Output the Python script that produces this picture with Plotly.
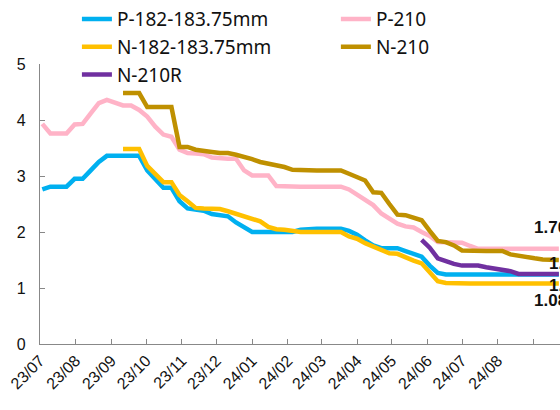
import pandas as pd
import plotly.graph_objects as go

# ---------------- data ----------------
start_week = "2023-07-03"
n_weeks = 65
dates = pd.date_range(start_week, periods=n_weeks, freq="7D")

series_names = ["P-182-183.75mm", "P-210", "N-182-183.75mm", "N-210", "N-210R"]
series_colors = ["#00B0F0", "#FFB3C7", "#FFC000", "#BF9000", "#7030A0"]
series_legend = ["legend", "legend2", "legend", "legend2", "legend"]

p182 = [2.76, 2.81, 2.81, 2.81, 2.95, 2.95, 3.10, 3.25, 3.36, 3.36,
        3.36, 3.36, 3.36, 3.10, 2.95, 2.79, 2.79, 2.55, 2.42, 2.39,
        2.38, 2.32, 2.30, 2.28, 2.17, 2.08, 2.00, 2.00, 2.00, 2.00,
        2.00, 2.00, 2.04, 2.06, 2.06, 2.06, 2.06, 2.06, 2.02, 1.95,
        1.85, 1.76, 1.71, 1.71, 1.71, 1.66, 1.61, 1.56, 1.40, 1.27,
        1.24, 1.24, 1.24, 1.24, 1.24, 1.24, 1.24, 1.24, 1.24, 1.24,
        1.24, 1.24, 1.24, 1.24, 1.24]

p210 = [3.93, 3.76, 3.76, 3.76, 3.92, 3.93, 4.12, 4.30, 4.36, 4.30,
        4.26, 4.26, 4.18, 4.06, 3.88, 3.74, 3.70, 3.47, 3.41, 3.40,
        3.39, 3.33, 3.31, 3.31, 3.31, 3.10, 3.01, 3.01, 3.01, 2.82,
        2.81, 2.81, 2.81, 2.81, 2.81, 2.81, 2.81, 2.81, 2.76, 2.67,
        2.58, 2.48, 2.33, 2.24, 2.15, 2.10, 2.08, 2.00, 1.93, 1.82,
        1.81, 1.81, 1.81, 1.75, 1.70, 1.70, 1.70, 1.70, 1.70, 1.70,
        1.70, 1.70, 1.70, 1.70, 1.70]

n182 = [None] * 10 + [
        3.48, 3.48, 3.48, 3.18, 3.03, 2.89, 2.89, 2.66, 2.55, 2.43,
        2.42, 2.42, 2.41, 2.37, 2.33, 2.28, 2.24, 2.19, 2.09, 2.05,
        2.04, 2.01, 2.00, 2.00, 2.00, 2.00, 2.00, 2.00, 1.92, 1.88,
        1.80, 1.74, 1.68, 1.62, 1.61, 1.54, 1.49, 1.44, 1.28, 1.12,
        1.09, 1.08, 1.08, 1.08, 1.08, 1.08, 1.08, 1.08, 1.08, 1.08,
        1.08, 1.08, 1.08, 1.08, 1.08]

n210 = [None] * 10 + [
        4.48, 4.48, 4.48, 4.23, 4.23, 4.23, 4.23, 3.52, 3.52, 3.47,
        3.46, 3.43, 3.41, 3.41, 3.38, 3.35, 3.30, 3.25, 3.22, 3.21,
        3.16, 3.11, 3.10, 3.10, 3.10, 3.10, 3.10, 3.10, 3.04, 2.97,
        2.92, 2.71, 2.70, 2.50, 2.31, 2.30, 2.26, 2.21, 2.02, 1.84,
        1.82, 1.76, 1.67, 1.66, 1.66, 1.66, 1.66, 1.66, 1.60, 1.57,
        1.55, 1.53, 1.51, 1.51, 1.50]

n210r = [None] * 47 + [
        1.86, 1.72, 1.53, 1.47, 1.43, 1.40, 1.40, 1.40, 1.37, 1.35,
        1.33, 1.30, 1.25, 1.25, 1.25, 1.25, 1.25, 1.25]

month_ticks = ["2023-07-01", "2023-08-01", "2023-09-01", "2023-10-01",
               "2023-11-01", "2023-12-01", "2024-01-01", "2024-02-01",
               "2024-03-01", "2024-04-01", "2024-05-01", "2024-06-01",
               "2024-07-01", "2024-08-01"]
month_labels = ["23/07", "23/08", "23/09", "23/10", "23/11", "23/12",
                "24/01", "24/02", "24/03", "24/04", "24/05", "24/06",
                "24/07", "24/08"]

# series that carry an end-value label, with pixel offsets of the label
end_labels = [("P-210", -27, 21), ("N-210", -12, -3),
              ("P-182-183.75mm", -12, -11), ("N-182-183.75mm", -27, -17)]

# ---------------- figure ----------------
all_values = [p182, p210, n182, n210, n210r]
fig = go.Figure()
for name, color, vals, lg in zip(series_names, series_colors, all_values, series_legend):
    fig.add_trace(go.Scatter(x=dates, y=vals, name=name, mode="lines",
                             line=dict(color=color, width=4.5),
                             connectgaps=False, legend=lg))

value_of = dict(zip(series_names, all_values))
for name, dx, dy in end_labels:
    v = value_of[name][-1]
    fig.add_annotation(x=dates[-1], y=v, text=f"{v:.2f}", showarrow=False,
                       xanchor="left", yanchor="middle", xshift=dx, yshift=dy,
                       font=dict(family="Arial, Liberation Sans", size=17,
                                 color="#111111", weight="bold"))

axis_col = "#888888"
legend_font = dict(family="Noto Sans", size=19, color="#111111")
fig.update_layout(
    width=560, height=410,
    margin=dict(l=40, r=0, t=64, b=66, autoexpand=False),
    paper_bgcolor="white", plot_bgcolor="white",
    showlegend=True,
    legend=dict(orientation="v", x=0.071, y=1.228, xanchor="left", yanchor="top",
                bgcolor="rgba(0,0,0,0)", font=legend_font, traceorder="normal",
                tracegroupgap=0),
    legend2=dict(orientation="v", x=0.569, y=1.228, xanchor="left", yanchor="top",
                 bgcolor="rgba(0,0,0,0)", font=legend_font, traceorder="normal",
                 tracegroupgap=0),
    xaxis=dict(type="date", range=["2023-07-01", "2024-09-24"],
               automargin=False,
               showline=True, linecolor=axis_col, linewidth=1.3,
               tickmode="array", tickvals=month_ticks, ticktext=month_labels,
               ticks="inside", ticklen=5, tickcolor=axis_col, tickwidth=1.3,
               tickangle=-45,
               tickfont=dict(family="Arial, Liberation Sans", size=16, color="#111111"),
               showgrid=False, zeroline=False,
               minor=dict(dtick="M1", tick0="2023-07-01", ticks="inside",
                          ticklen=5, tickcolor=axis_col, tickwidth=1.3,
                          showgrid=False)),
    yaxis=dict(range=[0, 5], dtick=1, showline=True, linecolor=axis_col,
               automargin=False,
               linewidth=1.3, ticks="inside", ticklen=5, tickcolor=axis_col,
               tickwidth=1.3, ticklabelstandoff=10,
               tickfont=dict(family="Arial, Liberation Sans", size=16, color="#111111"),
               showgrid=False, zeroline=False),
)

fig.write_html("out.html", config={"displayModeBar": False},
               post_script="document.body.style.margin='0';")
